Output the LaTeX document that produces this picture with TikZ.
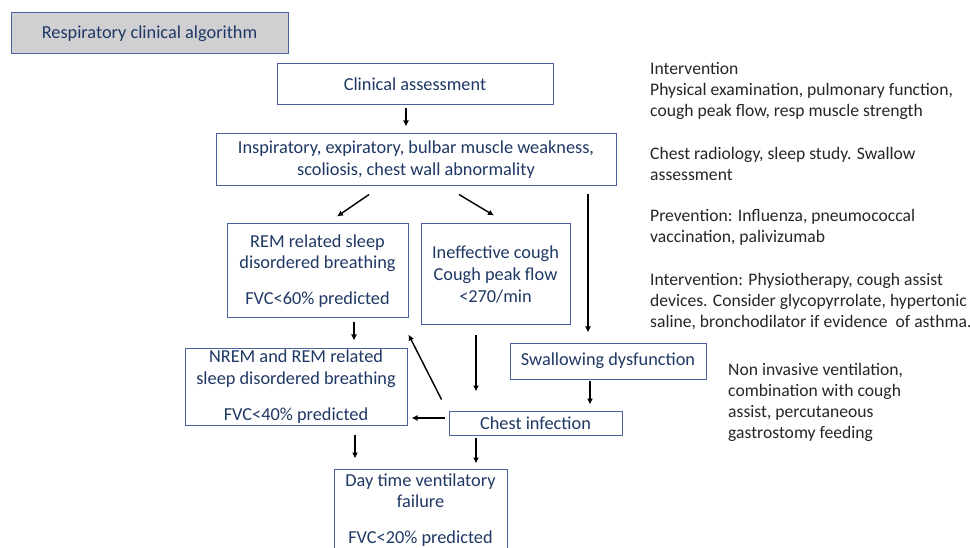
\documentclass[tikz,border=0pt]{standalone}
\usepackage{fontspec}
\setmainfont{Carlito}
\usepackage{xcolor}
\usepackage{tikz}
\usetikzlibrary{positioning,calc,arrows.meta}

\definecolor{navy}{RGB}{31,56,100}
\definecolor{boxline}{RGB}{72,98,160}
\definecolor{titlefill}{RGB}{208,208,210}

\tikzset{
    box/.style={draw=boxline, line width=1pt, text=navy, align=center, inner sep=1pt},
    note/.style={anchor=north west, align=left, inner sep=0pt, text=black!85, font=\fontsize{17.6}{21}\selectfont},
    arr/.style={-{Latex[length=6pt,width=6pt]}, line width=1.4pt},
}

\begin{document}
\begin{tikzpicture}[x=1pt, y=-1pt, font=\fontsize{18.3}{21.8}\selectfont]
    \useasboundingbox[fill=white] (0,0) rectangle (970,548);

    \node[box, fill=titlefill, minimum width=277, minimum height=41] (title) at (149.5,33.5) {Respiratory clinical algorithm};
    \node[box, minimum width=276, minimum height=41] (clin) at (415,84.5) {Clinical assessment};
    \node[box, minimum width=400, minimum height=52] (insp) at (416,160) {Inspiratory, expiratory, bulbar muscle weakness,\\scoliosis, chest wall abnormality};
    \node[box, minimum width=181, minimum height=94] (rem) at (317.5,271) {REM related sleep\\disordered breathing\\[14pt]FVC<60\% predicted};
    \node[box, minimum width=149, minimum height=101] (cough) at (495.5,274.5) {Ineffective cough\\Cough peak flow\\<270/min};
    \node[box, minimum width=222, minimum height=77] (nrem) at (296,386.5) {NREM and REM related\\sleep disordered breathing\\[14pt]FVC<40\% predicted};
    \node[box, minimum width=196, minimum height=36] (swal) at (608,361) {Swallowing dysfunction};
    \node[box, minimum width=173, minimum height=24] (chest) at (535.5,423) {Chest infection};
    \node[box, minimum width=173, minimum height=82] (day) at (420.5,510) {Day time ventilatory\\failure\\[14pt]FVC<20\% predicted};

    % notes on the right
    \node[note] (n1) at (650,62) {Intervention\\Physical examination, pulmonary function,\\cough peak flow, resp muscle strength};
    \node[note] (n2) at (650,147) {Chest radiology, sleep study. Swallow\\assessment};
    \node[note] (n3) at (650,209) {Prevention: Influenza, pneumococcal\\vaccination, palivizumab};
    \node[note] (n4) at (650,273) {Intervention: Physiotherapy, cough assist\\devices. Consider glycopyrrolate, hypertonic\\saline, bronchodilator if evidence\ \ of asthma.};
    \node[note] (n5) at (728,363) {Non invasive ventilation,\\combination with cough\\assist, percutaneous\\gastrostomy feeding};

    \draw[arr] ($(clin.south)+(-9,2.5)$) -- ($(insp.north)+(-10,-7)$);
    \draw[arr] ($(insp.south)+(-47,8)$) -- ($(rem.north)+(19.5,-7)$);
    \draw[arr] ($(insp.south)+(43,8)$) -- ($(cough.north)+(-1.5,-8)$);
    \draw[arr] ($(insp.south)+(172,8)$) -- ($(swal.north)+(-20,-10)$);
    \draw[arr] ($(rem.south)+(36.5,4)$) -- ($(nrem.north)+(58,-7)$);
    \draw[arr] ($(cough.south)+(-19.5,10)$) -- ($(chest.north)+(-59.5,-19)$);
    \draw[arr] ($(swal.south)+(-18,1)$) -- ($(chest.north)+(54.5,-6)$);
    \draw[arr] ($(chest.west)+(-4,-5)$) -- ($(nrem.east)+(4,31.5)$);
    \draw[arr] ($(chest.north west)+(-7,-11)$) -- ($(nrem.north east)+(1,-13)$);
    \draw[arr] ($(nrem.south)+(59,9)$) -- ($(day.north)+(-65.5,-10)$);
    \draw[arr] ($(chest.south)+(-59.5,2)$) -- ($(day.north)+(55.5,-5)$);
\end{tikzpicture}
\end{document}
